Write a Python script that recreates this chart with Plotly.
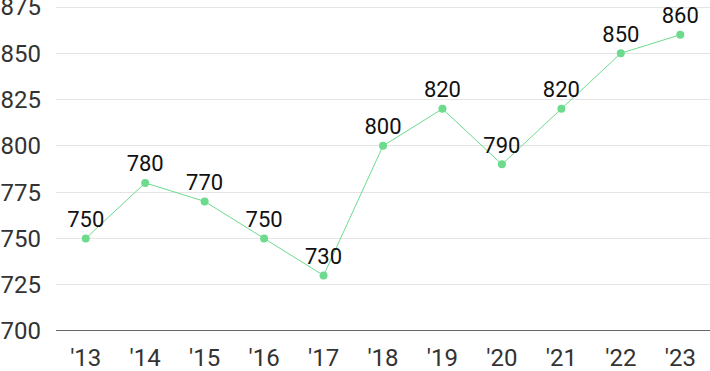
import plotly.graph_objects as go

years = ["'13", "'14", "'15", "'16", "'17", "'18", "'19", "'20", "'21", "'22", "'23"]
values = [750, 780, 770, 750, 730, 800, 820, 790, 820, 850, 860]
y_ticks = [700, 725, 750, 775, 800, 825, 850, 875]

fig = go.Figure(go.Scatter(
    x=years, y=values, mode="lines+markers+text",
    text=[str(v) for v in values], textposition="top center",
    textfont=dict(family="Roboto", size=22, color="#111"),
    line=dict(color="#6ddb8d", width=1),
    marker=dict(color="#6ddb8d", size=8),
    cliponaxis=False, hoverinfo="skip",
))
fig.update_layout(
    width=710, height=371, margin=dict(l=56, r=0, t=2, b=40, autoexpand=False),
    paper_bgcolor="white", plot_bgcolor="white", showlegend=False,
    font=dict(family="Roboto", color="#333"),
)
fig.update_xaxes(type="category", range=[-0.5, 10.5], showgrid=False, automargin=False,
                 showline=False, zeroline=False, tickfont=dict(size=24, color="#333"),
                 ticks="outside", ticklen=5, tickcolor="rgba(0,0,0,0)",
                 ticklabeloverflow="allow")
fig.update_yaxes(range=[700, 877.7], tickvals=y_ticks, showgrid=True, gridcolor="#e4e4e4",
                 gridwidth=1, zeroline=False, showline=False, automargin=False,
                 tickfont=dict(size=24, color="#333"), ticklabelstandoff=14,
                 ticklabeloverflow="allow")
fig.add_shape(type="line", xref="paper", yref="y", x0=0, x1=1, y0=700, y1=700,
              line=dict(color="#333", width=1.5))
fig.write_html("out.html", config={"displayModeBar": False},
               post_script="document.body.style.margin='0';document.body.style.overflow='hidden';")
